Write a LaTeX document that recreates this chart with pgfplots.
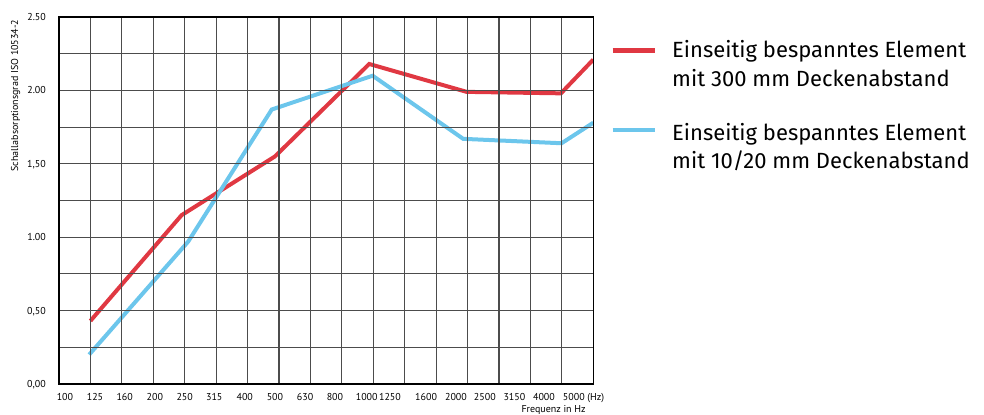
\documentclass[border=0pt]{standalone}
\usepackage{pgfplots}
\pgfplotsset{compat=1.18}
\usepackage{fontspec}
\setmainfont{PT Sans}
\newfontfamily\legfont{Fira Sans}
\definecolor{cred}{RGB}{224,56,66}
\definecolor{cblue}{RGB}{108,198,236}
\begin{document}
\begin{tikzpicture}[x=1bp,y=1bp]
\begin{axis}[
  at={(59bp,30bp)}, anchor=south west,
  scale only axis, width=534.3bp, height=367bp,
  xmin=0, xmax=17, ymin=0, ymax=2.5,
  axis on top,
  xtick={0.19,1.145,2.09,3.05,4.00,4.94,5.91,6.87,7.83,8.78,9.79,10.53,11.68,12.63,13.55,14.49,15.43,16.69},
  xticklabels={100,125,160,200,250,315,400,500,630,800,1000,1250,1600,2000,2500,3150,4000,5000 (Hz)},
  minor xtick={0,1,2,3,4,5,6,7,8,9,10,11,12,13,14,15,16,17},
  xminorgrids,
  ytick={0,0.25,0.5,0.75,1,1.25,1.5,1.75,2,2.25,2.5},
  yticklabels={{0,00},{},{0,50},{},{1.00},{},{1,50},{},{2.00},{},{2.50}},
  ymajorgrids,
  extra y ticks={0}, extra y tick labels={},
  extra y tick style={grid style={line width=2.8bp,black}},
  major tick length=0, minor tick length=0,
  grid style={line width=1.1bp, black!70},
  minor grid style={line width=1.1bp, black!70},
  axis line style={line width=1.3bp, black},
  tick label style={font=\fontsize{10bp}{12bp}\selectfont},
  xticklabel style={anchor=north, inner sep=0pt, yshift=-8.7bp, text height=7.3bp, text depth=2bp},
  yticklabel style={anchor=east, inner sep=0pt, xshift=-13bp, text height=7bp, text depth=0pt},
  ylabel={Schallabsorptionsgrad ISO 10534-2},
  ylabel style={at={(axis description cs:-0.0814,0.786)}, anchor=center, rotate=0, font=\fontsize{10bp}{12bp}\selectfont},
  xlabel={Frequenz in Hz},
  xlabel style={at={(axis description cs:0.992,-0.0763)}, anchor=base east, font=\fontsize{10bp}{12bp}\selectfont},
]
\addplot[cred, line width=4bp] coordinates {(1,0.43) (3.9,1.15) (6.87,1.55) (9.87,2.18) (12.97,1.99) (15.97,1.98) (17,2.21)};
\addplot[cblue, line width=4bp] coordinates {(0.96,0.20) (4.11,0.97) (6.77,1.87) (9.98,2.10) (12.86,1.67) (15.99,1.64) (17,1.78)};
\end{axis}
\draw[cred, line width=4.5bp] (612.7,363.3) -- (655,363.3);
\draw[cblue, line width=4.5bp] (612.7,284) -- (655,284);
\begin{scope}[every node/.style={anchor=base west, inner sep=0pt, font=\legfont\fontsize{22bp}{24bp}\selectfont}]
\node at (672,356.7) {Einseitig bespanntes Element};
\node at (672,327.5) {mit 300 mm Deckenabstand};
\node at (672,274) {Einseitig bespanntes Element};
\node at (672,245.7) {mit 10/20 mm Deckenabstand};
\end{scope}
\pgfresetboundingbox
\path[use as bounding box] (0,0) rectangle (984,414);
\end{tikzpicture}
\end{document}
